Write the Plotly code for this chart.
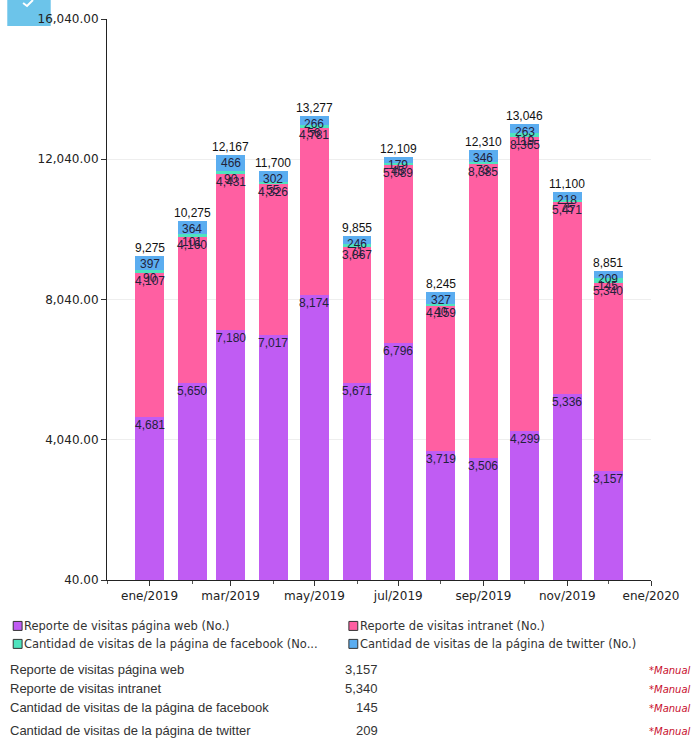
import plotly.graph_objects as go

# Monthly visit counts, 2019
months = ["2019-01-01", "2019-02-01", "2019-03-01", "2019-04-01", "2019-05-01", "2019-06-01",
          "2019-07-01", "2019-08-01", "2019-09-01", "2019-10-01", "2019-11-01", "2019-12-01"]
web = [4681, 5650, 7180, 7017, 8174, 5671, 6796, 3719, 3506, 4299, 5336, 3157]
intranet = [4107, 4160, 4431, 4326, 4781, 3867, 5089, 4159, 8385, 8365, 5471, 5340]
facebook = [90, 101, 90, 55, 56, 71, 45, 40, 73, 119, 75, 145]
twitter = [397, 364, 466, 302, 266, 246, 179, 327, 346, 263, 218, 209]

series_names = ["Reporte de visitas página web (No.)", "Reporte de visitas intranet (No.)",
                "Cantidad de visitas de la página de facebook (No...",
                "Cantidad de visitas de la página de twitter (No.)"]
table_names = ["Reporte de visitas página web", "Reporte de visitas intranet",
               "Cantidad de visitas de la página de facebook",
               "Cantidad de visitas de la página de twitter"]
colors = ["#C05CF3", "#FF5FA2", "#4FE3BE", "#5BADF0"]

x_tickvals = ["2019-01-01", "2019-03-01", "2019-05-01", "2019-07-01", "2019-09-01",
              "2019-11-01", "2020-01-01"]
x_ticktext = ["ene/2019", "mar/2019", "may/2019", "jul/2019", "sep/2019", "nov/2019", "ene/2020"]
y_tickvals = [40, 4040, 8040, 12040, 16040]

BAR_WIDTH_MS = 21 * 24 * 3600 * 1000
LABEL_FONT = dict(family="Liberation Sans, Arial", size=12, color="#22223a")

# plot area in pixels
PL, PR, PT, PB = 107, 658, 18, 580

fig = go.Figure()
series = [web, intranet, facebook, twitter]
for name, vals, col in zip(series_names, series, colors):
    fig.add_trace(go.Bar(x=months, y=vals, name=name, marker_color=col,
                         marker_line_width=0, width=BAR_WIDTH_MS, showlegend=False,
                         hoverinfo="x+y+name"))

annotations = []
# segment value labels, hung from the top of each segment
for i, m in enumerate(months):
    base = 0
    for vals in series:
        top = base + vals[i]
        annotations.append(dict(x=m, y=top, text=f"{vals[i]:,}", showarrow=False,
                                yanchor="top", yshift=1, font=LABEL_FONT))
        base = top
    annotations.append(dict(x=m, y=base, text=f"{base:,}", showarrow=False,
                            yanchor="bottom", yshift=-1,
                            font=dict(family="Liberation Sans, Arial", size=12, color="#111")))


def px_x(px):
    return (px - PL) / (PR - PL)


def px_y(py):
    return (PB - py) / (PB - PT)


shapes = []
# header badge in the top-left corner
shapes.append(dict(type="rect", xref="paper", yref="paper", x0=px_x(6), x1=px_x(50),
                   y0=px_y(25), y1=px_y(-2), fillcolor="#6CC4EA", line_width=0, layer="below"))
shapes.append(dict(type="path", xref="paper", yref="paper",
                   path=f"M {px_x(22)},{px_y(2)} L {px_x(26)},{px_y(5)} L {px_x(32)},{px_y(-1)}",
                   line=dict(color="white", width=2), layer="below"))

# legend, two columns
legend_pos = [(12, 626), (352, 626), (12, 644), (352, 644)]
for (lx, ly), name, col in zip(legend_pos, series_names, colors):
    shapes.append(dict(type="rect", xref="paper", yref="paper",
                       x0=px_x(lx), x1=px_x(lx + 9), y0=px_y(ly + 4.5), y1=px_y(ly - 4.5),
                       fillcolor=col, line=dict(color="#333", width=1)))
    annotations.append(dict(xref="paper", yref="paper", x=px_x(lx + 9), y=px_y(ly),
                            xanchor="left", yanchor="middle", showarrow=False, text=name,
                            font=dict(family="DejaVu Sans", size=11.5, color="#333")))

# summary table for the latest month
table_rows = [670, 689, 708, 731]
for ry, name, vals in zip(table_rows, table_names, series):
    annotations.append(dict(xref="paper", yref="paper", x=px_x(7), y=px_y(ry),
                            xanchor="left", yanchor="middle", showarrow=False, text=name,
                            font=dict(family="Liberation Sans, Arial", size=13, color="#333")))
    annotations.append(dict(xref="paper", yref="paper", x=px_x(384), y=px_y(ry),
                            xanchor="right", yanchor="middle", showarrow=False,
                            text=f"{vals[-1]:,}",
                            font=dict(family="Liberation Sans, Arial", size=13, color="#333")))
    annotations.append(dict(xref="paper", yref="paper", x=px_x(654), y=px_y(ry + 1),
                            xanchor="left", yanchor="middle", showarrow=False,
                            text="<i>*Manual</i>",
                            font=dict(family="DejaVu Sans", size=10, color="#C8102E")))

fig.update_layout(
    width=691, height=740,
    margin=dict(l=PL, r=691 - PR, t=PT, b=740 - PB),
    barmode="stack",
    paper_bgcolor="white", plot_bgcolor="white",
    annotations=annotations, shapes=shapes,
    showlegend=False,
    xaxis=dict(type="date", range=["2018-12-01", "2020-01-01"],
               tickvals=x_tickvals, ticktext=x_ticktext,
               ticks="outside", ticklen=5, tickcolor="#333", tickwidth=1,
               minor=dict(dtick="M1", tick0="2019-01-01", ticks="outside", ticklen=3,
                          tickcolor="#555", showgrid=False),
               showline=True, linecolor="#222", linewidth=1, showgrid=False,
               tickfont=dict(family="DejaVu Sans", size=12, color="#222")),
    yaxis=dict(range=[40, 16040], tickvals=y_tickvals, tickformat=",.2f",
               ticks="outside", ticklen=5, tickcolor="#333",
               showline=True, linecolor="#222", linewidth=1,
               showgrid=True, gridcolor="#EEEEEE", gridwidth=1, zeroline=False,
               tickfont=dict(family="DejaVu Sans", size=12, color="#222")),
)

fig.write_html("out.html")
